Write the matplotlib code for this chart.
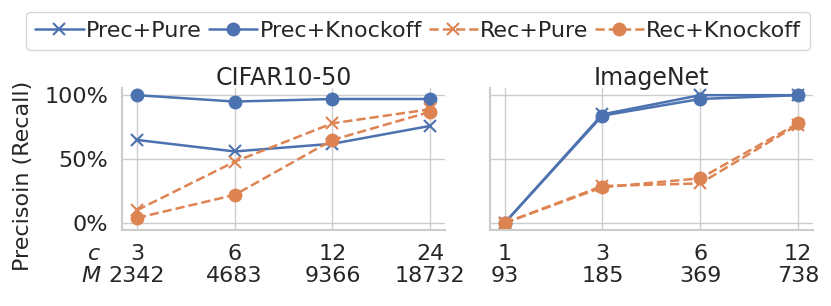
import matplotlib
matplotlib.use("Agg")
import matplotlib.pyplot as plt
import matplotlib.transforms as mtransforms
import seaborn as sns

sns.set_theme(style="whitegrid")
plt.rcParams['font.family'] = ['DejaVu Sans']

# data
cifar_c = ["3", "6", "12", "24"]
cifar_m = ["2342", "4683", "9366", "18732"]
cifar_prec_pure = [0.65, 0.56, 0.62, 0.76]
cifar_prec_knock = [1.00, 0.95, 0.97, 0.97]
cifar_rec_pure = [0.10, 0.48, 0.78, 0.89]
cifar_rec_knock = [0.04, 0.22, 0.65, 0.87]

imnet_c = ["1", "3", "6", "12"]
imnet_m = ["93", "185", "369", "738"]
imnet_prec_pure = [0.0, 0.85, 1.00, 1.00]
imnet_prec_knock = [0.0, 0.84, 0.97, 1.00]
imnet_rec_pure = [0.0, 0.29, 0.31, 0.77]
imnet_rec_knock = [0.0, 0.28, 0.35, 0.78]

blue = "#4C72B0"
orange = "#DD8452"
tick_pad = 10
line_sp = 1.14

fig, axes = plt.subplots(1, 2, figsize=(8.31, 3.06), dpi=100, sharey=True)
fig.subplots_adjust(left=0.147, right=0.978, top=0.712, bottom=0.248, wspace=0.139)

panels = [
    ("CIFAR10-50", cifar_c, cifar_m, cifar_prec_pure, cifar_prec_knock, cifar_rec_pure, cifar_rec_knock),
    ("ImageNet", imnet_c, imnet_m, imnet_prec_pure, imnet_prec_knock, imnet_rec_pure, imnet_rec_knock),
]

for ax, (title, cs, ms, pp, pk, rp, rk) in zip(axes, panels):
    x = list(range(len(cs)))
    ax.plot(x, pp, color=blue, ls="-", lw=1.8, marker="x", ms=9, mew=1.5, label="Prec+Pure")
    ax.plot(x, pk, color=blue, ls="-", lw=1.8, marker="o", ms=9, label="Prec+Knockoff")
    ax.plot(x, rp, color=orange, ls="--", lw=1.8, marker="x", ms=9, mew=1.5, label="Rec+Pure")
    ax.plot(x, rk, color=orange, ls="--", lw=1.8, marker="o", ms=9, label="Rec+Knockoff")
    ax.set_title(title, fontsize=17, pad=2)
    ax.set_xticks(x)
    ax.set_xticklabels([c + "\n" + m for c, m in zip(cs, ms)], fontsize=16, linespacing=line_sp)
    ax.set_xlim(-0.15, 3.15)
    ax.set_ylim(-0.055, 1.055)
    ax.set_yticks([0, 0.5, 1.0])
    ax.set_yticklabels(["0%", "50%", "100%"], fontsize=16)
    ax.tick_params(axis="both", pad=tick_pad, length=0)
    for s in ["top", "right"]:
        ax.spines[s].set_visible(False)
    for s in ["left", "bottom"]:
        ax.spines[s].set_color("#cccccc")
        ax.spines[s].set_linewidth(1.5)

ax0 = axes[0]
# row names for the two-line tick labels, aligned like the tick labels
row_trans = ax0.transAxes + mtransforms.ScaledTranslation(0, -tick_pad / 72, fig.dpi_scale_trans)
ax0.text(-0.068, 0, "c\nM", transform=row_trans, fontsize=16, style="italic",
         ha="right", va="top", multialignment="right", linespacing=line_sp)
ax0.set_ylabel("Precisoin (Recall)", fontsize=16)
ax0.yaxis.set_label_coords(-0.275, 0.384)

handles, labels = ax0.get_legend_handles_labels()
fig.legend(handles, labels, loc="upper center", bbox_to_anchor=(0.503, 0.961), ncol=4,
           fontsize=16, handlelength=2.2, handletextpad=0.1, columnspacing=0.3,
           borderpad=0.4, borderaxespad=0.0, frameon=True)

fig.savefig("out.png", dpi=100)
